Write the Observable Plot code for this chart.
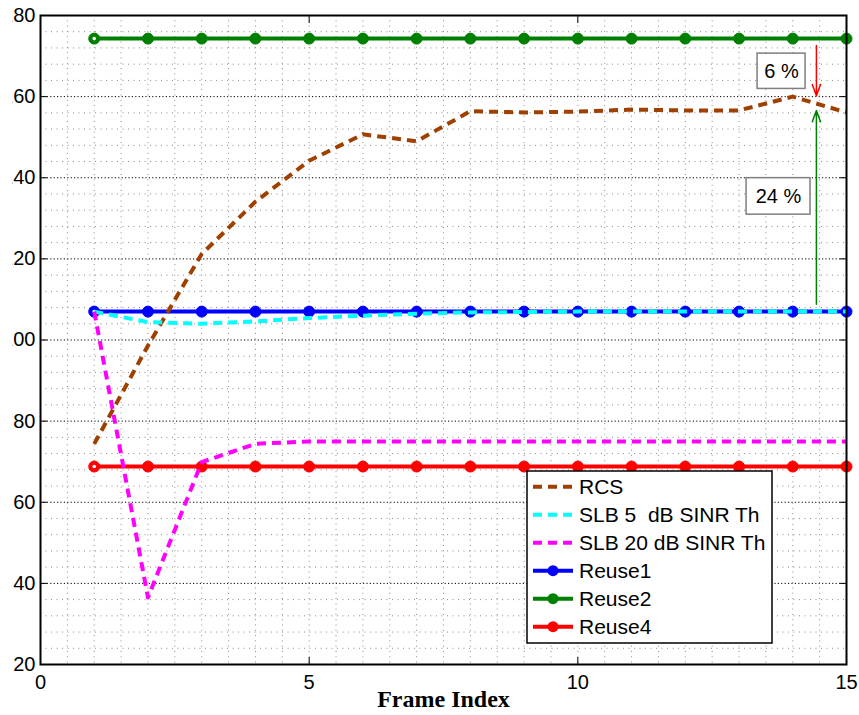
<!DOCTYPE html>
<html><head><meta charset="utf-8">
<script src="https://cdn.jsdelivr.net/npm/d3@7"></script>
<script src="https://cdn.jsdelivr.net/npm/@observablehq/plot@0.6"></script>
<style>
html,body{margin:0;padding:0;background:#fff;}
#wrap{width:859px;height:715px;overflow:hidden;position:relative;background:#fff;}
#wrap svg{display:block;max-width:none;clip-path:inset(0 0 0 12.5px);}
</style></head><body><div id="wrap"></div>
<script>
// ---- data ----
const frames = [1, 2, 3, 4, 5, 6, 7, 8, 9, 10, 11, 12, 13, 14, 15];
const rcs    = [74.4, 98.6, 121.2, 134.1, 144.2, 150.7, 149.0, 156.4, 156.1, 156.3, 156.8, 156.6, 156.6, 160.0, 156.1];
const slb5   = [107.0, 104.4, 104.0, 104.6, 105.4, 106.0, 106.5, 106.8, 106.9, 107.0, 107.0, 107.0, 107.0, 107.0, 107.0];
const slb20  = [107.0, 36.5, 69.9, 74.4, 75.0, 75.0, 75.0, 75.0, 75.0, 75.0, 75.0, 75.0, 75.0, 75.0, 75.0];
const reuse1 = [107.0, 107.0, 107.0, 107.0, 107.0, 107.0, 107.0, 107.0, 107.0, 107.0, 107.0, 107.0, 107.0, 107.0, 107.0];
const reuse2 = [174.3, 174.3, 174.3, 174.3, 174.3, 174.3, 174.3, 174.3, 174.3, 174.3, 174.3, 174.3, 174.3, 174.3, 174.3];
const reuse4 = [68.8, 68.8, 68.8, 68.8, 68.8, 68.8, 68.8, 68.8, 68.8, 68.8, 68.8, 68.8, 68.8, 68.8, 68.8];
const seriesNames = ["RCS", "SLB 5\u00a0 dB SINR Th", "SLB 20 dB SINR Th", "Reuse1", "Reuse2", "Reuse4"];
const xTicks = [0, 5, 10, 15];
const yTicks = [20, 40, 60, 80, 100, 120, 140, 160, 180];
const xDomain = [0, 15];
const yDomain = [20, 180];
// annotations (data coordinates)
const arrows = [
  {x1: 14.44, y1: 172.6, x2: 14.44, y2: 160.2, color: "#ff0000"},
  {x1: 14.44, y1: 108.8, x2: 14.44, y2: 156.6, color: "#008000"}
];
const boxes = [
  {label: "6 %",  x1: 13.345, x2: 14.238, y1: 161.9, y2: 170.6},
  {label: "24 %", x1: 13.14,  x2: 14.33,  y1: 130.9, y2: 139.9}
];

// ---- styles ----
const colors = ["#a04000", "#00ffff", "#ff00ff", "#0000ff", "#008000", "#ff0000"];
const dashedFlags = [true, true, true, false, false, false];
const FONT = "Liberation Sans, Arial, sans-serif";
const DASH = "9,6";

const seriesValues = [rcs, slb5, slb20, reuse1, reuse2, reuse4];
const series = seriesNames.map((name, k) => ({
  name, color: colors[k], dashed: dashedFlags[k],
  rows: frames.map((f, i) => ({frame: f, value: seriesValues[k][i]}))
}));

const xMinor = d3.range(0.5, 15, 0.5).filter(v => v % 5 !== 0);
const xMajorInner = xTicks.filter(v => v > xDomain[0] && v < xDomain[1]);
const yMinor = d3.range(24, 180, 4).filter(v => v % 20 !== 0);
const yMajorInner = yTicks.filter(v => v > yDomain[0] && v < yDomain[1]);

const dashedSeries = series.filter(s => s.dashed);
const solidSeries = series.filter(s => !s.dashed);

const marks = [
  Plot.ruleX(xMinor.concat(xMajorInner), {stroke: "#8a8a8a", strokeWidth: 1, strokeDasharray: "1,4.3"}),
  Plot.ruleY(yMinor, {stroke: "#8a8a8a", strokeWidth: 1, strokeDasharray: "1,4.5"}),
  Plot.ruleY(yMajorInner, {stroke: "#000", strokeWidth: 1, strokeDasharray: "1.2,2.2"}),
  ...solidSeries.flatMap(s => [
    Plot.line(s.rows, {x: "frame", y: "value", stroke: s.color, strokeWidth: 4}),
    Plot.dot(s.rows, {x: "frame", y: "value", r: 5.5, fill: s.color, stroke: s.color, strokeWidth: 1}),
    Plot.dot(s.rows.slice(0, 1), {x: "frame", y: "value", r: 1.8, fill: "#fff", stroke: "none"})
  ]),
  ...dashedSeries.map(s =>
    Plot.line(s.rows, {x: "frame", y: "value", stroke: s.color, strokeWidth: 4, strokeDasharray: DASH, strokeLinecap: "butt"})
  ),
  Plot.arrow(arrows, {x1: "x1", y1: "y1", x2: "x2", y2: "y2", stroke: "color", strokeWidth: 1.5, headAngle: 40, headLength: 12}),
  Plot.rect(boxes, {x1: "x1", x2: "x2", y1: "y1", y2: "y2", fill: "#fff", stroke: "#7f7f7f", strokeWidth: 1.5}),
  Plot.text(boxes, {x: d => (d.x1 + d.x2) / 2, y: d => (d.y1 + d.y2) / 2, text: "label", fontSize: 20, fontFamily: FONT, fill: "#000"}),
  Plot.frame({stroke: "#000", strokeWidth: 2}),
  Plot.axisY(yTicks, {anchor: "left", tickSize: -7, tickPadding: 12, fontSize: 20, fontFamily: FONT, label: null, stroke: "#000", fill: "#000"}),
  Plot.axisY(yTicks, {anchor: "right", tickSize: -7, label: null, stroke: "#000", fill: "none"}),
  Plot.axisX(xTicks, {anchor: "bottom", tickSize: -7, tickPadding: 17, fontSize: 20, fontFamily: FONT, label: null, stroke: "#000", fill: "#000"}),
  Plot.axisX(xTicks, {anchor: "top", tickSize: -7, label: null, stroke: "#000", fill: "none"}),
  Plot.text(["Frame Index"], {frameAnchor: "bottom", dy: 35, lineAnchor: "middle", fontSize: 24, fontWeight: "bold", fontFamily: "Liberation Serif, Times New Roman, serif", fill: "#000"})
];

const chart = Plot.plot({
  width: 859, height: 715,
  marginLeft: 40, marginRight: 13, marginTop: 15, marginBottom: 51,
  x: {domain: xDomain, axis: null},
  y: {domain: yDomain, axis: null},
  style: {fontFamily: FONT, fontSize: "20px", background: "#fff", color: "#000"},
  marks
});
document.getElementById("wrap").appendChild(chart);

// ---- legend (inside the axes, lower right) ----
const svg = d3.select(chart);
const lg = svg.append("g").attr("transform", "translate(527,471)");
lg.append("rect").attr("width", 245).attr("height", 172).attr("fill", "#fff").attr("stroke", "#000").attr("stroke-width", 1.5);
series.forEach((s, i) => {
  const cy = 15.7 + i * 28;
  lg.append("line").attr("x1", 6).attr("x2", 46).attr("y1", cy).attr("y2", cy)
    .attr("stroke", s.color).attr("stroke-width", 4)
    .attr("stroke-dasharray", s.dashed ? DASH : null);
  if (!s.dashed) lg.append("circle").attr("cx", 26).attr("cy", cy).attr("r", 5.5).attr("fill", s.color);
  lg.append("text").attr("x", 52).attr("y", cy).attr("dy", "0.36em")
    .attr("text-anchor", "start")
    .attr("font-family", FONT).attr("font-size", 21).attr("fill", "#000")
    .text(s.name);
});
</script></body></html>
